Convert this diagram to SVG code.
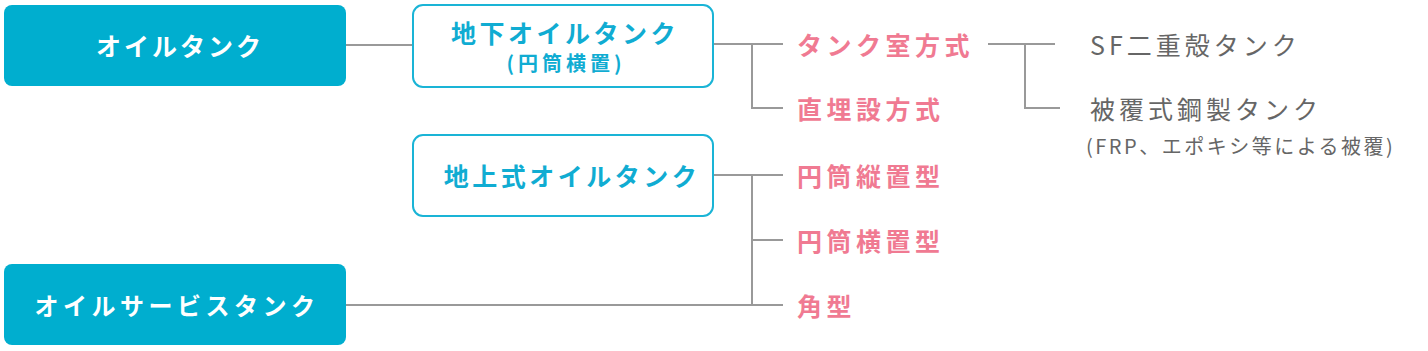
<svg xmlns="http://www.w3.org/2000/svg" width="1428" height="351" viewBox="0 0 1428 351">
<style>
.fill{fill:#00aecf;}
.out{fill:#fff;stroke:#1ab4d6;stroke-width:2;}
.wt{fill:#fff;font-family:"Noto Sans CJK JP","Noto Sans",sans-serif;font-weight:bold;font-size:25px;text-anchor:middle;dominant-baseline:central;letter-spacing:3px;}
.ct{fill:#10acd2;font-family:"Noto Sans CJK JP","Noto Sans",sans-serif;font-weight:bold;font-size:25px;text-anchor:middle;dominant-baseline:central;letter-spacing:3.5px;}
.pk{fill:#f07a92;font-family:"Noto Sans CJK JP","Noto Sans",sans-serif;font-weight:bold;font-size:25px;dominant-baseline:central;letter-spacing:4.5px;}
.gy{fill:#666;font-family:"Noto Sans CJK JP","Noto Sans",sans-serif;font-size:25px;dominant-baseline:central;letter-spacing:4px;}
.gys{fill:#666;font-family:"Noto Sans CJK JP","Noto Sans",sans-serif;font-size:20px;dominant-baseline:central;letter-spacing:2.5px;}
.ln{stroke:#999;stroke-width:2;fill:none;}
</style>
<rect width="1428" height="351" fill="#fff"/>
<g id="connectors">
<path class="ln" d="M346 45H413"/>
<path class="ln" d="M713 44H783M752 44V108H783"/>
<path class="ln" d="M988 44H1055M1025 44V108H1060"/>
<path class="ln" d="M713 175H783M752 175V305M752 240H783M346 305H783"/>
</g>
<g id="n-oiltank">
<rect class="fill" x="4" y="5" width="342" height="81" rx="8"/>
<text class="wt" x="180" y="45">オイルタンク</text>
</g>
<g id="n-underground">
<rect class="out" x="413" y="5" width="300" height="82" rx="10"/>
<text class="ct" x="565" y="32">地下オイルタンク</text>
<text class="ct" x="566" y="62" style="font-size:20px;letter-spacing:4px">(円筒横置)</text>
</g>
<g id="n-aboveground">
<rect class="out" x="413" y="135" width="300" height="81" rx="10"/>
<text class="ct" x="572" y="175">地上式オイルタンク</text>
</g>
<g id="n-servicetank">
<rect class="fill" x="4" y="264" width="342" height="81" rx="8"/>
<text class="wt" x="177" y="304" style="font-size:24px;letter-spacing:4.5px">オイルサービスタンク</text>
</g>
<g id="n-tankroom"><text class="pk" x="797" y="44">タンク室方式</text></g>
<g id="n-direct"><text class="pk" x="797" y="108">直埋設方式</text></g>
<g id="n-vertical"><text class="pk" x="797" y="175">円筒縦置型</text></g>
<g id="n-horizontal"><text class="pk" x="797" y="240">円筒横置型</text></g>
<g id="n-square"><text class="pk" x="797" y="305">角型</text></g>
<g id="n-sf"><text class="gy" x="1090" y="44">SF二重殻タンク</text></g>
<g id="n-coated">
<text class="gy" x="1090" y="108">被覆式鋼製タンク</text>
<text class="gys" x="1086" y="145">(FRP、エポキシ等による被覆)</text>
</g>
</svg>
